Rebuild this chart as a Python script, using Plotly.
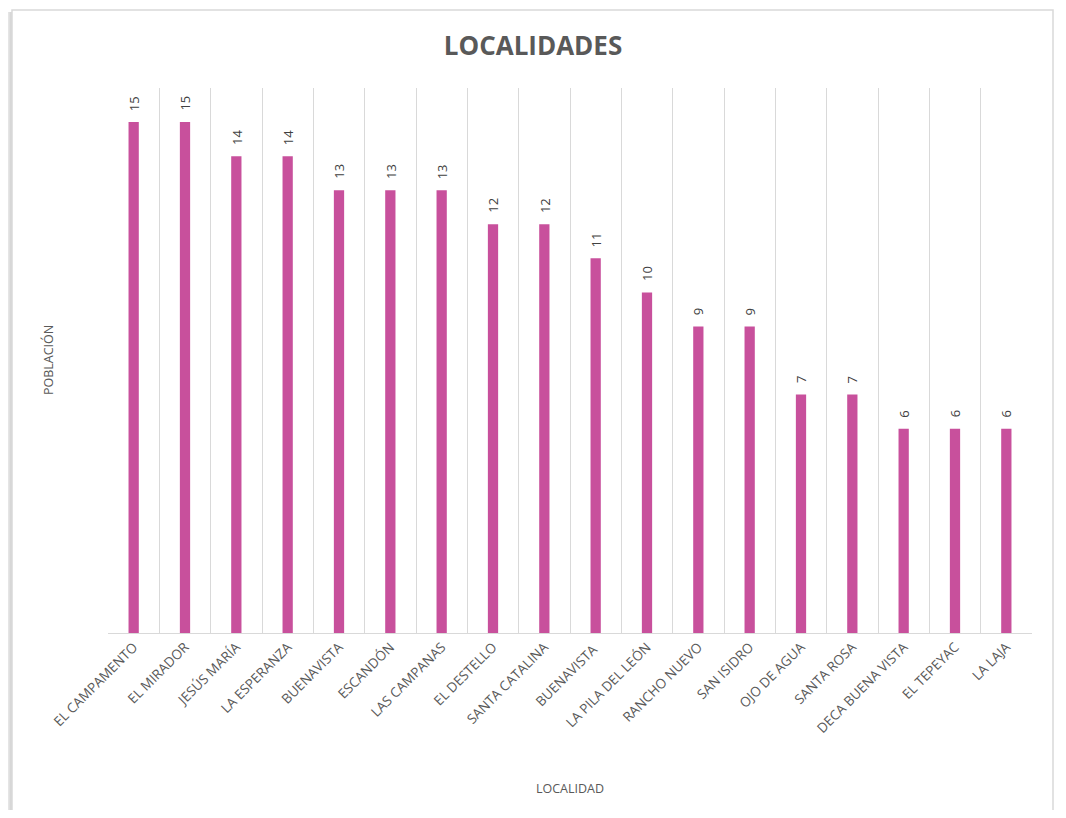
import plotly.graph_objects as go

localidades = ["EL CAMPAMENTO", "EL MIRADOR", "JESÚS MARÍA", "LA ESPERANZA", "BUENAVISTA",
               "ESCANDÓN", "LAS CAMPANAS", "EL DESTELLO", "SANTA CATALINA", "BUENAVISTA ",
               "LA PILA DEL LEÓN", "RANCHO NUEVO", "SAN ISIDRO", "OJO DE AGUA", "SANTA ROSA",
               "DECA BUENA VISTA", "EL TEPEYAC", "LA LAJA"]
poblacion = [15, 15, 14, 14, 13, 13, 13, 12, 12, 11, 10, 9, 9, 7, 7, 6, 6, 6]

OFF = 8  # page body margin
W, H = 1066 - 2 * OFF, 818 - 2 * OFF
L, R, T, B = 108 - OFF, 34 - OFF, 88 - OFF, 185 - OFF
pw, ph = W - L - R, H - T - B


def px(x):
    return (x - OFF - L) / pw


def py(y):
    return (H + OFF - B - y) / ph


fig = go.Figure(go.Bar(
    x=localidades, y=poblacion,
    marker=dict(color="#C8509C", line=dict(width=0)),
    width=0.2,
    hoverinfo="x+y",
))

annotations = [
    dict(x=c, y=v, xref="x", yref="y", text=str(v), textangle=-90, showarrow=False,
         xanchor="center", yanchor="bottom", yshift=9,
         font=dict(family="Open Sans", size=13, color="#404040"))
    for c, v in zip(localidades, poblacion)
]
annotations.append(dict(x=px(570), y=py(788), xref="paper", yref="paper", text="LOCALIDAD",
                        showarrow=False, xanchor="center", yanchor="middle",
                        font=dict(family="Open Sans", size=12.5, color="#595959")))
annotations.append(dict(x=px(48), y=py(360), xref="paper", yref="paper", text="POBLACIÓN",
                        showarrow=False, xanchor="center", yanchor="middle", textangle=-90,
                        font=dict(family="Open Sans", size=12.5, color="#595959")))

shapes = []
for i, op in enumerate([0.025, 0.035, 0.045, 0.06]):
    shapes.append(dict(type="rect", xref="paper", yref="paper",
                       x0=px(3 + i * 2.2), x1=px(12), y0=py(840), y1=py(12),
                       fillcolor="#000000", opacity=op, line=dict(width=0), layer="below"))
shapes.append(dict(type="rect", xref="paper", yref="paper",
                   x0=px(12), x1=px(1053), y0=py(840), y1=py(10),
                   fillcolor="white", line=dict(color="#D9D9D9", width=1.5), layer="below"))

fig.update_layout(
    width=W, height=H,
    margin=dict(l=L, r=R, t=T, b=B),
    paper_bgcolor="white", plot_bgcolor="white",
    font=dict(family="Open Sans", color="#595959"),
    title=dict(text="<b>LOCALIDADES</b>", xref="container", x=(533 - OFF) / W, xanchor="center",
               yref="container", y=(H - (46 - OFF)) / H, yanchor="middle",
               font=dict(family="Open Sans", size=26, color="#595959")),
    showlegend=False,
    shapes=shapes,
    annotations=annotations,
    xaxis=dict(
        type="category", tickangle=-45, tickson="boundaries",
        showgrid=True, gridcolor="#D9D9D9", gridwidth=1,
        showline=True, linecolor="#D9D9D9", linewidth=1,
        ticks="", ticklen=0, tickfont=dict(family="Open Sans", size=13.5, color="#595959"),
        range=[-0.5, len(localidades) - 0.5],
    ),
    yaxis=dict(
        range=[0, 16], showgrid=False, showticklabels=False, zeroline=False,
        showline=False, ticks="",
    ),
)

fig.write_html("out.html")
